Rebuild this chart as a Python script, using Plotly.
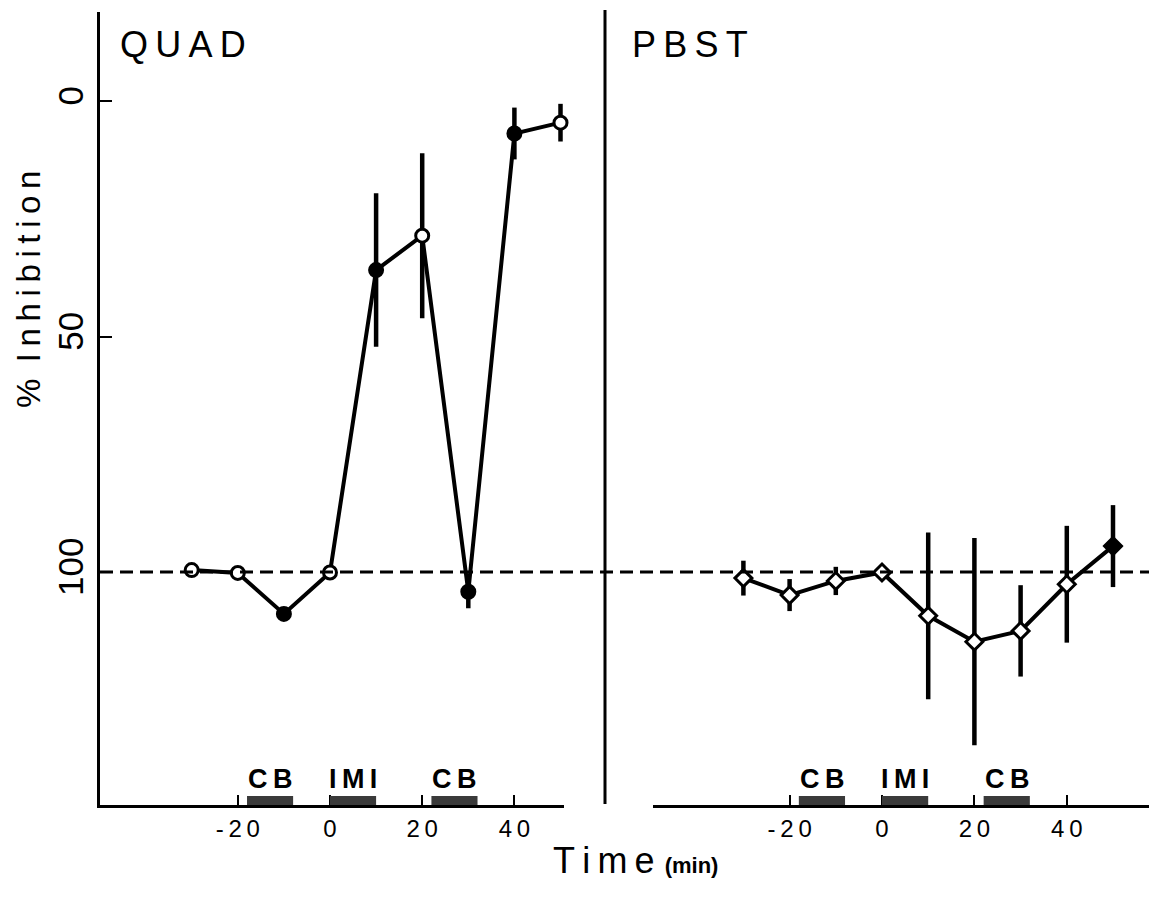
import plotly.graph_objects as go

# Sampling times (min) relative to IMI injection
time = [-30, -20, -10, 0, 10, 20, 30, 40, 50]

# QUAD: mean % inhibition and error (symmetric)
quad_mean = [99.6, 100.2, 108.9, 100.1, 35.9, 28.6, 104.2, 6.9, 4.6]
quad_err = [0, 0, 0, 0, 16.3, 17.5, 3.5, 5.5, 4.0]
quad_filled = [False, False, True, False, True, False, True, True, False]

# PBST: mean % inhibition and error (symmetric)
pbst_mean = [101.3, 104.9, 101.9, 100.1, 109.3, 114.8, 112.5, 102.6, 94.5]
pbst_err = [3.7, 3.4, 3.0, 0, 17.7, 22.0, 9.7, 12.4, 8.7]
pbst_filled = [False, False, False, False, False, False, False, False, True]

# Treatment periods drawn along the time axis
treat_labels = ["CB", "IMI", "CB"]
treat_start = [-18, 0, 22]
treat_end = [-8, 10, 32]

x_ticks = [-20, 0, 20, 40]
x_ticktext = ["-\u20092\u20090", "0", "2\u20090", "4\u20090"]
y_ticks = [0, 50, 100]
y_ticktext = ["0", "50", "100"]

W, H = 1149, 903
FONT = "Liberation Sans, Arial, sans-serif"


def px(x):
    return x / W


def py(y):
    return 1 - y / H


Y_BOTTOM_PX, Y_TOP_PX = 805, 12
Y_ZERO_PX, Y_SCALE = 101, 4.71  # pixel of 0 %, pixels per %
y_range = [(Y_BOTTOM_PX - Y_ZERO_PX) / Y_SCALE, (Y_TOP_PX - Y_ZERO_PX) / Y_SCALE]
y_domain = [py(Y_BOTTOM_PX), py(Y_TOP_PX)]

# left panel: 0 min at 330 px, 4.61 px/min, axis 100..564 px
x1_range = [(100 - 330) / 4.61, (564 - 330) / 4.61]
# right panel: 0 min at 882 px, 4.62 px/min, axis 653..1149 px
x2_range = [(653 - 882) / 4.62, (1149 - 882) / 4.62]

fig = go.Figure()


def add_series(mean, err, filled, symbol, size, xaxis, yaxis):
    fig.add_trace(go.Scatter(
        x=time, y=mean, xaxis=xaxis, yaxis=yaxis,
        mode="lines+markers",
        line=dict(color="black", width=4),
        marker=dict(
            symbol=symbol, size=size,
            color=["black" if f else "white" for f in filled],
            line=dict(color="black", width=3),
        ),
        error_y=dict(type="data", array=err, visible=True,
                     color="black", thickness=4.5, width=0),
        cliponaxis=False,
        hoverinfo="skip",
    ))


add_series(quad_mean, quad_err, quad_filled, "circle", 13, "x", "y")
add_series(pbst_mean, pbst_err, pbst_filled, "diamond", 13, "x2", "y2")

common_x = dict(
    showgrid=False, zeroline=False, showline=True, linecolor="black",
    linewidth=3, ticks="inside", ticklen=10, tickwidth=2, tickcolor="black",
    tickvals=x_ticks, ticktext=x_ticktext,
    tickfont=dict(family=FONT, size=24, color="black"),
)

fig.update_layout(
    width=W, height=H,
    margin=dict(l=0, r=0, t=0, b=0),
    paper_bgcolor="white", plot_bgcolor="white",
    showlegend=False,
    xaxis=dict(domain=[px(100), px(564)], range=x1_range, anchor="y", **common_x),
    xaxis2=dict(domain=[px(653), 1.0], range=x2_range, anchor="y2", **common_x),
    yaxis=dict(
        domain=y_domain, range=y_range, anchor="x",
        showgrid=False, zeroline=False, showline=True, linecolor="black",
        linewidth=3, ticks="inside", ticklen=12, tickwidth=2, tickcolor="black",
        tickvals=y_ticks, ticktext=y_ticktext, tickangle=-90,
        tickfont=dict(family=FONT, size=35, color="black"),
    ),
    yaxis2=dict(
        domain=y_domain, range=y_range, anchor="x2",
        showgrid=False, zeroline=False, showline=False,
        showticklabels=False, ticks="",
    ),
)

shapes = [
    # 100 % reference line across both panels
    dict(type="line", xref="paper", yref="y", x0=px(100), x1=1.0, y0=100, y1=100,
         line=dict(color="black", width=3, dash="13px,7px")),
    # divider / left edge of the second panel
    dict(type="line", xref="paper", yref="paper", x0=px(605), x1=px(605),
         y0=py(804), y1=py(10), line=dict(color="black", width=3)),
]

bar_h = 9 / Y_SCALE
annotations = []
for xa, ya in (("x", "y"), ("x2", "y2")):
    for lab, s, e in zip(treat_labels, treat_start, treat_end):
        shapes.append(dict(type="rect", xref=xa, yref=ya, x0=s, x1=e,
                           y0=y_range[0], y1=y_range[0] - bar_h,
                           fillcolor="#3a3a3a", line=dict(width=0)))
        annotations.append(dict(
            xref=xa, yref=ya, x=(s + e) / 2, y=y_range[0] - bar_h,
            yanchor="bottom", xanchor="center", showarrow=False,
            text="<b>" + "\u2009".join(lab) + "</b>",
            font=dict(family=FONT, size=27, color="black"),
        ))

annotations += [
    dict(xref="paper", yref="paper", x=px(118), y=py(44), xanchor="left",
         yanchor="middle", showarrow=False, text="Q\u2009U\u2009A\u2009D",
         font=dict(family=FONT, size=36, color="black")),
    dict(xref="paper", yref="paper", x=px(630), y=py(44), xanchor="left",
         yanchor="middle", showarrow=False, text="P\u2009B\u2009S\u2009T",
         font=dict(family=FONT, size=36, color="black")),
    dict(xref="paper", yref="paper", x=px(28), y=py(290), xanchor="center",
         yanchor="middle", showarrow=False, textangle=-90,
         text="%\u2002I\u2009n\u2009h\u2009i\u2009b\u2009i\u2009t\u2009i\u2009o\u2009n",
         font=dict(family=FONT, size=33, color="black")),
    dict(xref="paper", yref="paper", x=px(635), y=py(860), xanchor="center",
         yanchor="middle", showarrow=False,
         text="T\u2009i\u2009m\u2009e <b><span style='font-size:22px'>(min)</span></b>",
         font=dict(family=FONT, size=36, color="black")),
]

fig.update_layout(shapes=shapes, annotations=annotations)

fig.write_html("out.html")
